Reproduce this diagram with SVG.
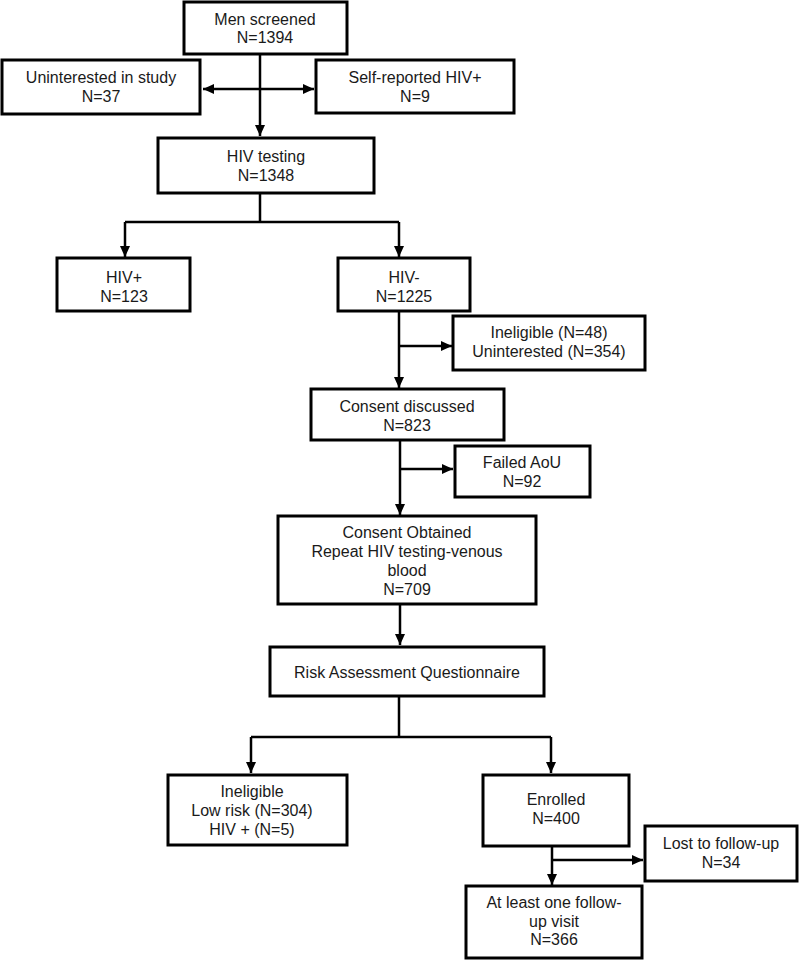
<svg xmlns="http://www.w3.org/2000/svg" width="800" height="960" viewBox="0 0 800 960">
<defs>
<marker id="ah" markerUnits="userSpaceOnUse" markerWidth="12" markerHeight="12" viewBox="0 0 12 12" refX="11" refY="6" orient="auto-start-reverse">
<path d="M0,1 L11,6 L0,11 Z" fill="#000"/>
</marker>
</defs>
<style>
rect{fill:#fff;stroke:#000;stroke-width:3}
text{font-family:"Liberation Sans",Arial,sans-serif;font-size:16px;fill:#1a1a1a;text-anchor:middle}
.c{fill:none;stroke:#000;stroke-width:2.5}
</style>
<rect x="0" y="0" width="800" height="960" style="stroke:none"/>
<g id="connectors">
<path class="c" d="M260,54 V136" marker-end="url(#ah)"/>
<path class="c" d="M203,89 H314" marker-start="url(#ah)" marker-end="url(#ah)"/>
<path class="c" d="M260,193 V222 M125,222 H399"/>
<path class="c" d="M125,222 V257" marker-end="url(#ah)"/>
<path class="c" d="M399,222 V257" marker-end="url(#ah)"/>
<path class="c" d="M399,311 V388" marker-end="url(#ah)"/>
<path class="c" d="M399,346 H452" marker-end="url(#ah)"/>
<path class="c" d="M400,440 V515" marker-end="url(#ah)"/>
<path class="c" d="M400,469 H453" marker-end="url(#ah)"/>
<path class="c" d="M400,604 V645" marker-end="url(#ah)"/>
<path class="c" d="M399,696 V737 M251,737 H551"/>
<path class="c" d="M251,737 V773" marker-end="url(#ah)"/>
<path class="c" d="M551,737 V773" marker-end="url(#ah)"/>
<path class="c" d="M552,846 V885" marker-end="url(#ah)"/>
<path class="c" d="M552,860 H643" marker-end="url(#ah)"/>
</g>
<g id="men-screened"><rect x="184" y="2" width="163" height="52"/><text x="265" y="25">Men screened</text><text x="265" y="43">N=1394</text></g>
<g id="uninterested"><rect x="2" y="60" width="198" height="54"/><text x="101" y="83">Uninterested in study</text><text x="101" y="102">N=37</text></g>
<g id="self-reported"><rect x="316" y="60" width="198" height="53"/><text x="415" y="83">Self-reported HIV+</text><text x="415" y="102">N=9</text></g>
<g id="hiv-testing"><rect x="158" y="138" width="216" height="55"/><text x="266" y="162">HIV testing</text><text x="266" y="181">N=1348</text></g>
<g id="hiv-pos"><rect x="57" y="258" width="133" height="53"/><text x="124" y="283">HIV+</text><text x="124" y="302">N=123</text></g>
<g id="hiv-neg"><rect x="338" y="258" width="132" height="53"/><text x="404" y="283">HIV-</text><text x="404" y="302">N=1225</text></g>
<g id="ineligible1"><rect x="453" y="316" width="192" height="54"/><text x="549" y="338">Ineligible (N=48)</text><text x="549" y="357">Uninterested (N=354)</text></g>
<g id="consent-discussed"><rect x="311" y="389" width="193" height="51"/><text x="407" y="412">Consent discussed</text><text x="407" y="431">N=823</text></g>
<g id="failed-aou"><rect x="455" y="446" width="135" height="51"/><text x="522" y="468">Failed AoU</text><text x="522" y="487">N=92</text></g>
<g id="consent-obtained"><rect x="278" y="516" width="258" height="88"/><text x="407" y="538">Consent Obtained</text><text x="407" y="557">Repeat HIV testing-venous</text><text x="407" y="576">blood</text><text x="407" y="595">N=709</text></g>
<g id="risk"><rect x="270" y="647" width="274" height="49"/><text x="407" y="678">Risk Assessment Questionnaire</text></g>
<g id="ineligible2"><rect x="168" y="775" width="179" height="70"/><text x="252" y="797">Ineligible</text><text x="252" y="816">Low risk (N=304)</text><text x="252" y="835">HIV + (N=5)</text></g>
<g id="enrolled"><rect x="483" y="775" width="146" height="71"/><text x="556" y="805">Enrolled</text><text x="556" y="824">N=400</text></g>
<g id="lost"><rect x="645" y="826" width="152" height="55"/><text x="721" y="849">Lost to follow-up</text><text x="721" y="868">N=34</text></g>
<g id="followup"><rect x="466" y="886" width="176" height="72"/><text x="554" y="908">At least one follow-</text><text x="554" y="927">up visit</text><text x="554" y="945">N=366</text></g>
</svg>
